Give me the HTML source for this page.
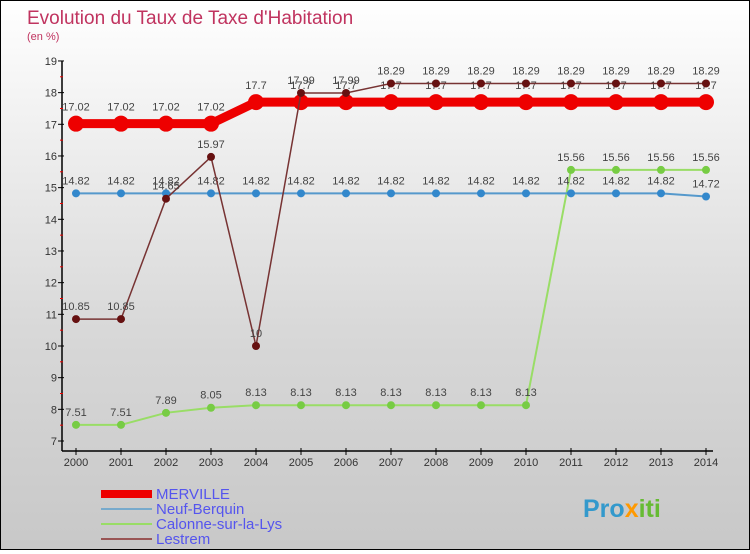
<!DOCTYPE html>
<html><head><meta charset="utf-8"><style>
body{margin:0;width:750px;height:550px;overflow:hidden;font-family:"Liberation Sans",sans-serif}
#c{position:absolute;left:0;top:0;width:748px;height:548px;border:1px solid #000;background:linear-gradient(#ffffff,#d8d8d8 60%,#c8c8c8)}
</style></head><body>
<div id="c">
<svg id="s" width="748" height="548" xmlns="http://www.w3.org/2000/svg">
<text x="26" y="23" font-size="19" fill="#c0335f">Evolution du Taux de Taxe d'Habitation</text>
<text x="26" y="39" font-size="11" fill="#c0335f">(en %)</text>
<g id="axes"></g><g id="series"></g>
<g font-size="15" fill="#5555ee">
<rect x="100" y="489" width="51" height="8" fill="#ee0000"/>
<text x="155" y="498">MERVILLE</text>
<rect x="100" y="507" width="51" height="2" fill="#77aacc"/>
<text x="155" y="513">Neuf-Berquin</text>
<rect x="100" y="522" width="51" height="2" fill="#99dd66"/>
<text x="155" y="528">Calonne-sur-la-Lys</text>
<rect x="100" y="537" width="51" height="2" fill="#995555"/>
<text x="155" y="543">Lestrem</text>
</g>
<text x="582" y="516" font-size="25" font-weight="bold" fill="#3399cc">Pro<tspan fill="#ff9900">x</tspan><tspan fill="#66bb33">iti</tspan></text>
</svg></div>
<script>
const years=[2000,2001,2002,2003,2004,2005,2006,2007,2008,2009,2010,2011,2012,2013,2014];
const merville=[17.02,17.02,17.02,17.02,17.7,17.7,17.7,17.7,17.7,17.7,17.7,17.7,17.7,17.7,17.7];
const neufBerquin=[14.82,14.82,14.82,14.82,14.82,14.82,14.82,14.82,14.82,14.82,14.82,14.82,14.82,14.82,14.72];
const calonne=[7.51,7.51,7.89,8.05,8.13,8.13,8.13,8.13,8.13,8.13,8.13,15.56,15.56,15.56,15.56];
const lestrem=[10.85,10.85,14.65,15.97,10,17.99,17.99,18.29,18.29,18.29,18.29,18.29,18.29,18.29,18.29];
const yTicks=[7,8,9,10,11,12,13,14,15,16,17,18,19];
const NS="http://www.w3.org/2000/svg";
const X=i=>75+i*45, Y=v=>440-(v-7)*31.67;
function mk(t,a,p){const e=document.createElementNS(NS,t);for(const k in a)e.setAttribute(k,a[k]);p.appendChild(e);return e;}
const ax=document.getElementById('axes'), sg=document.getElementById('series');
const yl=mk('line',{x1:61,y1:Y(19),x2:61,y2:450,stroke:'#000','stroke-width':1.5},ax);


const xl=mk('line',{x1:61,y1:450,x2:712,y2:450,stroke:'#000','stroke-width':1.5},ax);


yTicks.forEach(v=>{
 mk('line',{x1:57,y1:Y(v),x2:63,y2:Y(v),stroke:'#000'},ax);
 if(v<19) mk('line',{x1:59,y1:Y(v+0.5),x2:62,y2:Y(v+0.5),stroke:'#e00'},ax);
 const t=mk('text',{x:56,y:Y(v)+4,'font-size':11,'text-anchor':'end',fill:'#333'},ax);t.textContent=v;
 
 
});
years.forEach((y,i)=>{
 mk('line',{x1:X(i),y1:447,x2:X(i),y2:454,stroke:'#000'},ax);
 const t=mk('text',{x:X(i),y:465,'font-size':11,'text-anchor':'middle',fill:'#333'},ax);t.textContent=y;
 
 
});
function series(data,name,color,w,r,dot){
 const g=mk('g',{},sg);
 
 
 mk('polyline',{points:data.map((v,i)=>X(i)+','+Y(v)).join(' '),fill:'none',stroke:color,'stroke-width':w},g);
 data.forEach((v,i)=>{
  const c=mk('circle',{cx:X(i),cy:Y(v),r:r,fill:dot},g);
  
  
  const t=mk('text',{x:X(i),y:Y(v)-r-5,'font-size':11,'text-anchor':'middle',fill:'#444'},g);
  t.textContent=String(v);
  
  
 });
}
series(calonne,'calonne','#99dd66',2,4,'#77cc44');
series(neufBerquin,'neuf-berquin','#5599cc',2,4,'#3388cc');
series(merville,'merville','#ee0000',9,8,'#ee0000');
series(lestrem,'lestrem','#773333',1.5,4,'#661111');
</script>
</body></html>
